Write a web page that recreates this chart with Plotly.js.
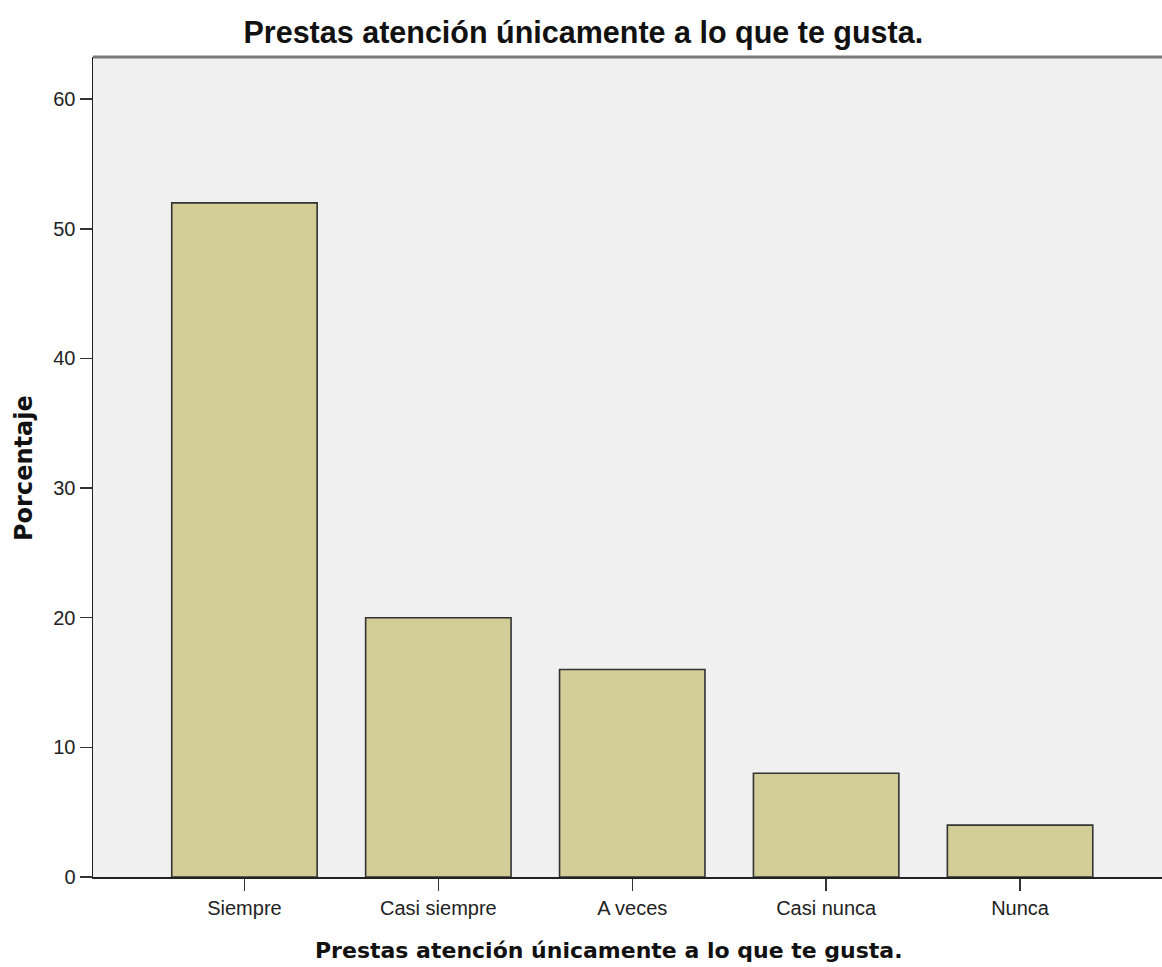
<!DOCTYPE html>
<html>
<head>
<meta charset="utf-8">
<script src="https://cdn.plot.ly/plotly-3.0.1.min.js"></script>
<style>html,body{margin:0;padding:0;background:#fff;}#chart{width:1162px;height:967px;}</style>
</head>
<body>
<div id="chart"></div>
<script>
const categories = ["Siempre", "Casi siempre", "A veces", "Casi nunca", "Nunca"];
const percentages = [52, 20, 16, 8, 4];
const yTickValues = [0, 10, 20, 30, 40, 50, 60];
const chartTitle = "Prestas atención únicamente a lo que te gusta.";
const xTitle = "Prestas atención únicamente a lo que te gusta.";
const yTitle = "Porcentaje";

const trace = {
  type: "bar",
  x: categories,
  y: percentages,
  width: 0.75,
  marker: { color: "#D3CE97", line: { color: "#333333", width: 1.6 } },
  hoverinfo: "x+y"
};

const plotTop = 57, plotBottom = 877, plotLeft = 93, plotWidth = 1069;
const plotH = plotBottom - plotTop;

const layout = {
  width: 1162,
  height: 967,
  margin: { l: 93, r: 0, t: 57, b: 90 },
  paper_bgcolor: "#ffffff",
  plot_bgcolor: "#F0F0F0",
  showlegend: false,
  font: { family: "Liberation Sans, Arial, sans-serif", color: "#222222", size: 20 },
  title: {
    text: chartTitle,
    font: { family: "Liberation Sans, Arial, sans-serif", size: 30.5, weight: "bold", color: "#111111" },
    xref: "container", x: 0.502, xanchor: "center",
    yref: "container", y: 1 - 32 / 967, yanchor: "middle"
  },
  xaxis: {
    type: "category",
    range: [-0.781, 4.732],
    showline: true, linecolor: "#222222", linewidth: 1.5,
    ticks: "outside", ticklen: 12, tickwidth: 1.5, tickcolor: "#333333",
    tickfont: { family: "Liberation Sans, Arial, sans-serif", size: 20, color: "#222222" },
    showgrid: false, zeroline: false,
    fixedrange: true
  },
  yaxis: {
    range: [0, 63.25],
    tickvals: yTickValues,
    showline: true, linecolor: "#222222", linewidth: 1.5,
    ticks: "outside", ticklen: 12, tickwidth: 1.5, tickcolor: "#333333",
    tickfont: { family: "Liberation Sans, Arial, sans-serif", size: 20, color: "#222222" },
    ticklabelstandoff: 0,
    showgrid: false, zeroline: false,
    fixedrange: true
  },
  shapes: [
    { type: "line", xref: "paper", yref: "paper", x0: 0, x1: 1, y0: 1, y1: 1,
      line: { color: "#7a7a7a", width: 3 } }
  ],
  annotations: [
    { text: xTitle, xref: "paper", yref: "paper",
      x: (609 - plotLeft) / plotWidth, y: (plotBottom - 950) / plotH,
      xanchor: "center", yanchor: "middle", showarrow: false,
      font: { family: "DejaVu Sans, sans-serif", size: 22, weight: "bold", color: "#111111" } },
    { text: yTitle, xref: "paper", yref: "paper",
      x: (24 - plotLeft) / plotWidth, y: (plotBottom - 468) / plotH,
      xanchor: "center", yanchor: "middle", textangle: -90, showarrow: false,
      font: { family: "DejaVu Sans, sans-serif", size: 24, weight: "bold", color: "#111111" } }
  ]
};

Plotly.newPlot("chart", [trace], layout, { displayModeBar: false, staticPlot: true });
</script>
</body>
</html>
